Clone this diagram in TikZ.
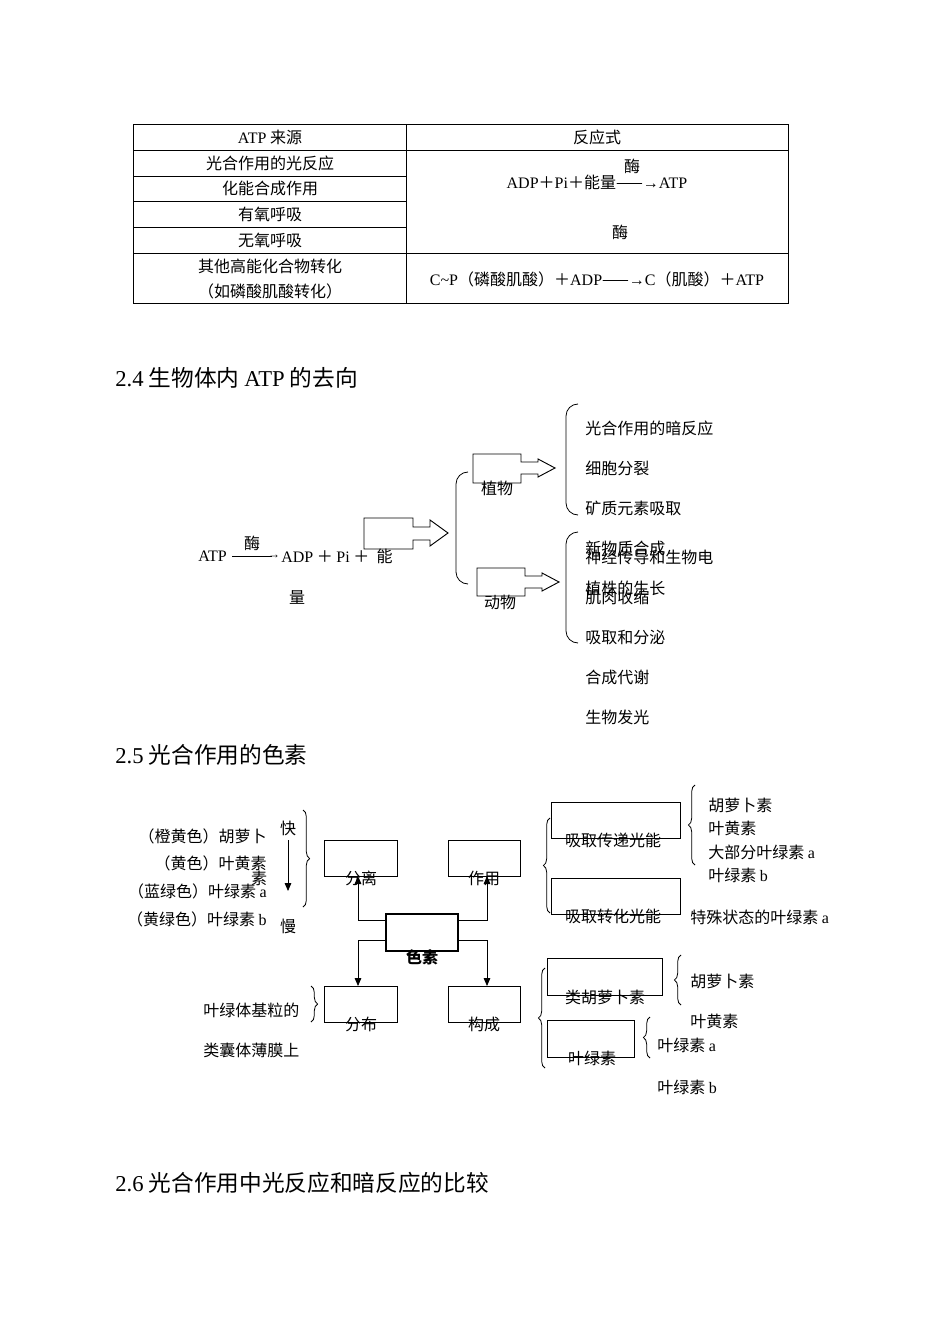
\documentclass[tikz,border=0pt]{standalone}
\usepackage{fontspec}
\setmainfont{Liberation Serif}
\newfontfamily\zh{Noto Sans CJK SC}
\usetikzlibrary{decorations.pathreplacing,arrows.meta}
\begin{document}
\begin{tikzpicture}[x=0.75pt,y=-0.75pt,
  t/.style={inner sep=0pt,font=\fontsize{12}{14}\selectfont\zh},
  tl/.style={t,anchor=west},
  tr/.style={t,anchor=east},
  hd/.style={inner sep=0pt,anchor=west,font=\fontsize{17}{20}\selectfont\zh},
  bx/.style={draw,line width=0.6pt,minimum width=0pt},
  lb/.style={decorate,decoration={brace,amplitude=5pt},line width=0.6pt},
  con/.style={line width=0.6pt,-{Triangle[length=6pt,width=5pt]}},
  barrow/.style={draw,line width=0.7pt}]
\useasboundingbox (0,0) rectangle (950,1344);
% ---------- table
\draw[line width=0.6pt] (133,124) rectangle (788,303);
\draw[line width=0.6pt] (406,124) -- (406,303);
\draw[line width=0.6pt] (133,150) -- (788,150);
\draw[line width=0.6pt] (133,176) -- (406,176);
\draw[line width=0.6pt] (133,201) -- (406,201);
\draw[line width=0.6pt] (133,227) -- (406,227);
\draw[line width=0.6pt] (133,253) -- (788,253);
\node[t] (h1) at (270,137) {{\rmfamily ATP} 来源};
\node[t] (h2) at (597,137) {反应式};
\node[t] (r1) at (270,163) {光合作用的光反应};
\node[t] (r2) at (270,188) {化能合成作用};
\node[t] (r3) at (270,214) {有氧呼吸};
\node[t] (r4) at (270,240) {无氧呼吸};
\node[t] (r5) at (270,266) {其他高能化合物转化};
\node[t] (r6) at (270,291) {（如磷酸肌酸转化）};
\node[t] (e1) at (597,182) {{\rmfamily ADP}＋{\rmfamily Pi}＋能量——{\rmfamily\char"2192}{\rmfamily ATP}};
\node[t] (m1) at (632,166) {酶};
\node[t] (m2) at (620,232) {酶};
\node[t] (e2) at (597,279) {{\rmfamily C\textasciitilde P}（磷酸肌酸）＋{\rmfamily ADP}——{\rmfamily\char"2192}{\rmfamily C}（肌酸）＋{\rmfamily ATP}};
% ---------- 2.4
\node[hd] (s24) at (115,378) {{\rmfamily 2.4} 生物体内 {\rmfamily ATP} 的去向};
\node[tl] (atp) at (198,556) {\rmfamily ATP};
\draw[line width=0.5pt] (232,556) -- (272,556);
\node[t] (arr) at (274,557) {\rmfamily\small\char"2192};
\node[t] (mei) at (252,543) {酶};
\node[tl] (adp) at (281,556) {{\rmfamily ADP} ＋ {\rmfamily Pi} ＋\ \ 能};
\node[t] (liang) at (297,597) {量};
\draw[barrow] (364,518) -- (413,518) -- (413,527) -- (430,527) -- (430,520) -- (448,533) -- (430,546) -- (430,540) -- (413,540) -- (413,549) -- (364,549) -- cycle;
\draw[barrow] (473,454) -- (521,454) -- (521,462) -- (538,462) -- (538,459) -- (555,468) -- (538,477) -- (538,474) -- (521,474) -- (521,483) -- (473,483) -- cycle;
\draw[barrow] (477,568) -- (525,568) -- (525,576) -- (542,576) -- (542,573) -- (559,582) -- (542,591) -- (542,588) -- (525,588) -- (525,596) -- (477,596) -- cycle;
\node[t] (zw) at (497,488) {植物};
\node[t] (dw) at (500,602) {动物};
\draw[line width=0.6pt] (468,472) to[out=180,in=90] (456,484) -- (456,572) to[out=-90,in=180] (468,584);
\draw[line width=0.6pt] (578,404) to[out=180,in=90] (566,416) -- (566,503) to[out=-90,in=180] (578,515);
\draw[line width=0.6pt] (578,532) to[out=180,in=90] (566,544) -- (566,631) to[out=-90,in=180] (578,643);
\node[tl] (p1) at (585,428) {光合作用的暗反应};
\node[tl] (p2) at (585,468) {细胞分裂};
\node[tl] (p3) at (585,508) {矿质元素吸取};
\node[tl] (p4) at (585,548) {新物质合成};
\node[tl] (a1) at (585,557) {神经传导和生物电};
\node[tl] (p5) at (585,588) {植株的生长};
\node[tl] (a2) at (585,597) {肌肉收缩};
\node[tl] (a3) at (585,637) {吸取和分泌};
\node[tl] (a4) at (585,677) {合成代谢};
\node[tl] (a5) at (585,717) {生物发光};
% ---------- 2.5
\node[hd] (s25) at (115,755) {{\rmfamily 2.5} 光合作用的色素};
\draw[bx] (324,840) rectangle (397,876);
\draw[bx] (448,840) rectangle (520,876);
\draw[bx] (324,986) rectangle (397,1022);
\draw[bx] (448,986) rectangle (520,1022);
\draw[line width=1.6pt] (386,914) rectangle (458,951);
\coordinate (fl) at (358,876);
\coordinate (zy) at (487,876);
\coordinate (fb) at (358,986);
\coordinate (gc) at (487,986);
\node[t,font=\fontsize{12}{14}\selectfont\zh\bfseries] (sesu) at (422,957) {色素};
\node[t] (fen) at (361,878) {分离};
\node[t] (zuo) at (484,878) {作用};
\node[t] (bu) at (361,1024) {分布};
\node[t] (gou) at (484,1024) {构成};
\draw[con] (386,920) -- (358,920) -- (fl);
\draw[con] (458,920) -- (487,920) -- (zy);
\draw[con] (386,940) -- (358,940) -- (fb);
\draw[con] (458,940) -- (487,940) -- (gc);
\node[tr] (c1) at (267,836) {（橙黄色）胡萝卜};
\node[tr] (c2) at (267,863) {（黄色）叶黄素};
\node[t] (c2b) at (259,878) {素};
\node[tr] (c3) at (267,891) {（蓝绿色）叶绿素 {\rmfamily a}};
\node[tr] (c4) at (267,919) {（黄绿色）叶绿素 {\rmfamily b}};
\node[t] (kuai) at (288,828) {快};
\node[t] (man) at (288,926) {慢};
\draw[con] (288,840) -- (288,891);
\draw[lb] (303,810) -- (303,907);
\draw[lb] (550,913) -- (550,818);
\draw[bx] (551,802) rectangle (680,838);
\draw[bx] (551,878) rectangle (680,914);
\node[t] (x1) at (613,840) {吸取传递光能};
\node[t] (x2) at (613,916) {吸取转化光能};
\draw[lb] (695,865) -- (695,785);
\node[tl] (y1) at (708,805) {胡萝卜素};
\node[tl] (y2) at (708,828) {叶黄素};
\node[tl] (y3) at (708,852) {大部分叶绿素 {\rmfamily a}};
\node[tl] (y4) at (708,875) {叶绿素 {\rmfamily b}};
\node[tl] (y5) at (690,917) {特殊状态的叶绿素 {\rmfamily a}};
\draw[lb] (545,1068) -- (545,968);
\draw[bx] (547,958) rectangle (662,995);
\draw[bx] (547,1020) rectangle (634,1057);
\node[t] (lh) at (605,997) {类胡萝卜素};
\node[t] (ll) at (592,1058) {叶绿素};
\draw[lb] (681,1005) -- (681,955);
\node[tl] (z1) at (690,981) {胡萝卜素};
\node[tl] (z2) at (690,1021) {叶黄素};
\draw[lb] (650,1058) -- (650,1017);
\node[tl] (z3) at (657,1045) {叶绿素 {\rmfamily a}};
\node[tl] (z4) at (657,1087) {叶绿素 {\rmfamily b}};
\node[tl] (d1) at (203,1010) {叶绿体基粒的};
\node[tl] (d2) at (203,1050) {类囊体薄膜上};
\draw[lb] (311,986) -- (311,1022);
% ---------- 2.6
\node[hd] (s26) at (115,1183) {{\rmfamily 2.6} 光合作用中光反应和暗反应的比较};
\end{tikzpicture}
\end{document}
